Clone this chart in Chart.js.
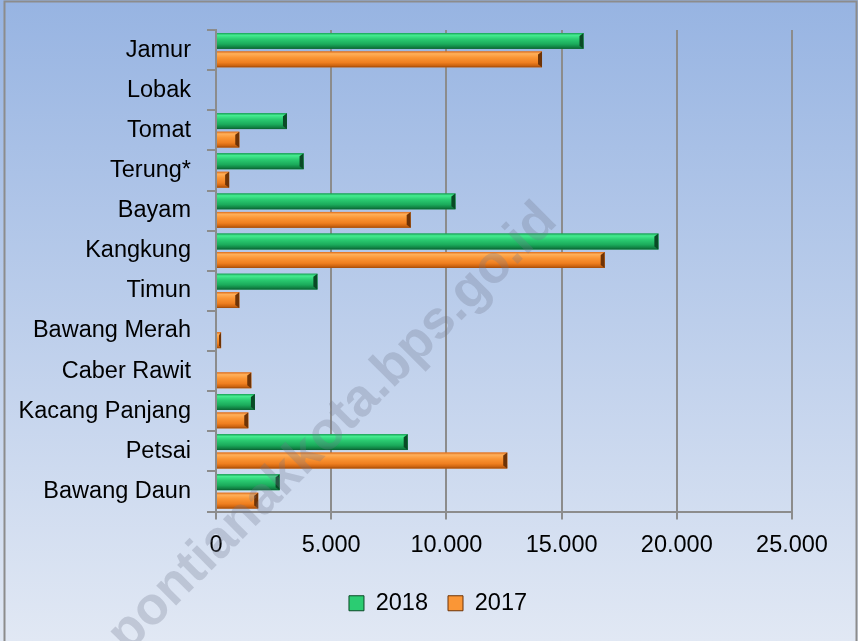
<!DOCTYPE html>
<html>
<head>
<meta charset="utf-8">
<script src="https://cdn.jsdelivr.net/npm/chart.js@4"></script>
<style>
    html, body { margin: 0; padding: 0; background: #fff; }
    #wrap { width: 858px; height: 641px; position: relative; }
</style>
</head>
<body>
<div id="wrap"><canvas id="veg-chart"></canvas></div>
<script>
// categories, top to bottom
const categories = ['Jamur', 'Lobak', 'Tomat', 'Terung*', 'Bayam', 'Kangkung', 'Timun',
    'Bawang Merah', 'Caber Rawit', 'Kacang Panjang', 'Petsai', 'Bawang Daun'];
const values2018 = [15950, 0, 3080, 3800, 10390, 19200, 4400, 0, 0, 1690, 8320, 2760];
const values2017 = [14150, 0, 1010, 570, 8450, 16870, 1010, 220, 1530, 1400, 12640, 1830];
const seriesLabels = ['2018', '2017'];
const xTicks = [0, 5000, 10000, 15000, 20000, 25000];
const watermarkText = 'pontianakkota.bps.go.id';

const fontFamily = "'Liberation Sans', Arial, sans-serif";
const gridColor = '#8c8c8c';

// bevel palettes for the bars
const shades = {
    '2018': { base: '#1fae5a', stops: ['#16a055', '#45ec90', '#2bcc72', '#1bab5b', '#108042', '#0a5f30'], end: '#0a4a26' },
    '2017': { base: '#f07f1f', stops: ['#dc6c1b', '#ffb05a', '#fa9636', '#ef7f20', '#ca620f', '#99470a'], end: '#6e3306' }
};

function formatNum(v) {
    return String(v).replace(/\B(?=(\d{3})+(?!\d))/g, '.');
}

const backgroundPlugin = {
    id: 'backgroundPlugin',
    beforeDraw(chart) {
        const ctx = chart.ctx;
        const g = ctx.createLinearGradient(0, 0, 0, chart.height);
        g.addColorStop(0, '#97b4e2');
        g.addColorStop(1, '#e1e8f4');
        ctx.save();
        ctx.fillStyle = g;
        ctx.fillRect(0, 0, chart.width, chart.height);
        ctx.strokeStyle = gridColor;
        ctx.lineWidth = 2;
        ctx.strokeRect(4.5, 1.5, 852, 660);
        ctx.restore();
    }
};

// legend sits a bit right of the canvas centre in the original
const legendShift = {
    id: 'legendShift',
    afterLayout(chart) {
        chart.legend.left = 84;
        chart.legend.adjustHitBoxes();
    }
};

const bevelPlugin = {
    id: 'bevelPlugin',
    afterDatasetsDraw(chart) {
        const ctx = chart.ctx;
        chart.data.datasets.forEach((ds, di) => {
            const pal = shades[ds.label];
            chart.getDatasetMeta(di).data.forEach(el => {
                const p = el.getProps(['x', 'y', 'base', 'height'], true);
                const left = Math.min(p.base, p.x);
                const right = Math.max(p.base, p.x);
                if (right - left < 0.5) return;
                const top = p.y - p.height / 2;
                const bottom = p.y + p.height / 2;
                const g = ctx.createLinearGradient(0, top, 0, bottom);
                const pos = [0, 0.14, 0.38, 0.7, 0.9, 1];
                pal.stops.forEach((c, i) => g.addColorStop(pos[i], c));
                ctx.save();
                ctx.fillStyle = g;
                ctx.fillRect(left, top, right - left, p.height);
                const b = Math.min(4, (right - left) / 2);
                ctx.fillStyle = pal.end;
                ctx.beginPath();
                ctx.moveTo(right - b, top + 3);
                ctx.lineTo(right, top);
                ctx.lineTo(right, bottom);
                ctx.lineTo(right - b, bottom - 3);
                ctx.closePath();
                ctx.fill();
                ctx.restore();
            });
        });
    }
};

const watermarkPlugin = {
    id: 'watermarkPlugin',
    afterDraw(chart) {
        const ctx = chart.ctx;
        ctx.save();
        ctx.translate(333, 428);
        ctx.rotate(-Math.PI / 4);
        ctx.font = 'bold 53px ' + fontFamily;
        ctx.fillStyle = 'rgba(110, 120, 140, 0.28)';
        ctx.textAlign = 'center';
        ctx.textBaseline = 'middle';
        ctx.fillText(watermarkText, 0, 0);
        ctx.restore();
    }
};

const ctx = document.getElementById('veg-chart').getContext('2d');
const chart = new Chart(ctx, {
    type: 'bar',
    data: {
        labels: categories,
        datasets: [
            { label: seriesLabels[0], data: values2018, backgroundColor: shades['2018'].base, borderWidth: 0 },
            { label: seriesLabels[1], data: values2017, backgroundColor: shades['2017'].base, borderWidth: 0 }
        ]
    },
    options: {
        indexAxis: 'y',
        responsive: true,
        maintainAspectRatio: false,
        animation: false,
        categoryPercentage: 0.92,
        barPercentage: 0.86,
        layout: {
            padding: { left: 0, right: 66, top: 30, bottom: 16 }
        },
        scales: {
            y: {
                grid: {
                    offset: true,
                    drawOnChartArea: false,
                    color: gridColor,
                    lineWidth: 2,
                    tickLength: 9
                },
                border: { display: true, color: gridColor, width: 2 },
                ticks: {
                    color: '#000',
                    padding: 16,
                    font: { family: fontFamily, size: 23.5 }
                },
                afterFit(scale) { scale.width = 216; }
            },
            x: {
                min: 0,
                max: 25000,
                afterBuildTicks(scale) { scale.ticks = xTicks.map(v => ({ value: v })); },
                grid: { color: gridColor, lineWidth: 2, tickLength: 8 },
                border: { display: true, color: gridColor, width: 2 },
                ticks: {
                    color: '#000',
                    padding: 12,
                    font: { family: fontFamily, size: 23.5 },
                    callback: v => formatNum(v)
                },
                afterFit(scale) { scale.height = 60; }
            }
        },
        plugins: {
            legend: {
                position: 'bottom',
                labels: {
                    color: '#000',
                    boxWidth: 15,
                    boxHeight: 15,
                    padding: 20,
                    font: { family: fontFamily, size: 23.5 },
                    generateLabels(c) {
                        return c.data.datasets.map((ds, i) => ({
                            text: ds.label,
                            fillStyle: shades[ds.label].stops[2],
                            strokeStyle: shades[ds.label].end,
                            lineWidth: 1,
                            hidden: false,
                            datasetIndex: i
                        }));
                    }
                }
            },
            tooltip: { enabled: false }
        }
    },
    plugins: [backgroundPlugin, legendShift, bevelPlugin, watermarkPlugin]
});
</script>
</body>
</html>
